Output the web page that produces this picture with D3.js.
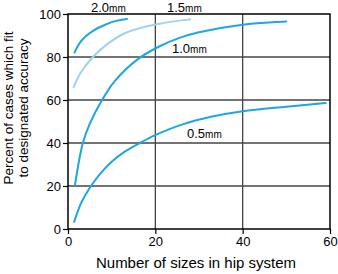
<!DOCTYPE html>
<html><head><meta charset="utf-8">
<script src="https://cdn.jsdelivr.net/npm/d3@7"></script>
<style>body{margin:0;background:#fff}svg{display:block}</style>
</head><body>
<script>
const xTicks = [0, 20, 40, 60];
const yTicks = [0, 20, 40, 60, 80, 100];
const seriesNames = ["2.0", "1.5", "1.0", "0.5"];
const s20 = [[1.5,82],[2.5,86],[4,89.5],[6,92.5],[8.5,95],[11,96.8],[13.5,97.7]];
const s15 = [[1.3,66],[3,73],[5.7,80],[9,86],[13.5,91.5],[21,95.5],[28,97.5]];
const s10 = [[1.6,20.5],[3.4,40],[5,49],[7.8,60],[10.8,69],[16,79],[21,85],[25.7,89],[30,91.5],[40,95],[50,96.5]];
const s05 = [[1.4,3.3],[3,12],[5.1,19.5],[7.5,26],[10,31.3],[13,36],[16.6,40.2],[20,43.7],[26.4,48.8],[33,52.3],[40,54.8],[50,56.9],[59,58.6]];
const xTitle = "Number of sizes in hip system";
const yTitle = ["Percent of cases which fit", "to designated accuracy"];

const W = 338, H = 274;
const svg = d3.select("body").append("svg").attr("width", W).attr("height", H);
const font = "'Liberation Sans', Arial, sans-serif";
const x = d3.scaleLinear().domain([0, 60]).range([68, 330]);
const y = d3.scaleLinear().domain([0, 100]).range([229, 14]);

// grid
svg.append("g").selectAll("line").data(xTicks.slice(1, -1)).join("line")
  .attr("x1", d => x(d)).attr("x2", d => x(d)).attr("y1", y(0)).attr("y2", y(100))
  .attr("stroke", "#444").attr("stroke-width", 1.3);
svg.append("g").selectAll("line").data(yTicks.slice(1, -1)).join("line")
  .attr("y1", d => y(d)).attr("y2", d => y(d)).attr("x1", x(0)).attr("x2", x(60))
  .attr("stroke", "#444").attr("stroke-width", 1.3);

// axes
const xa = svg.append("g").attr("transform", `translate(0,${y(0)})`)
  .call(d3.axisBottom(x).tickValues(xTicks).tickSize(5).tickPadding(3).tickSizeOuter(0));
const ya = svg.append("g").attr("transform", `translate(${x(0)},0)`)
  .call(d3.axisLeft(y).tickValues(yTicks).tickSize(5).tickPadding(2).tickSizeOuter(0));
[xa, ya].forEach(a => {
  a.select(".domain").remove();
  a.selectAll("line").attr("stroke", "#000").attr("stroke-width", 1.2);
  a.selectAll("text").attr("font-family", font).attr("font-size", 13).attr("fill", "#000");
});

// border
svg.append("rect").attr("x", x(0)).attr("y", y(100)).attr("width", x(60) - x(0)).attr("height", y(0) - y(100))
  .attr("fill", "none").attr("stroke", "#000").attr("stroke-width", 1.5);

// curves
const line = d3.line().x(d => x(d[0])).y(d => y(d[1])).curve(d3.curveCatmullRom.alpha(0.5));
const colors = ["#1da6e4", "#9fd2f0", "#1da6e4", "#1da6e4"];
[s20, s15, s10, s05].forEach((s, i) => {
  svg.append("path").attr("d", line(s)).attr("fill", "none")
    .attr("stroke", colors[i]).attr("stroke-width", 2).attr("stroke-linecap", "round");
});

// labels
const labPos = [[91, 12], [167, 12], [172, 53], [187, 138]];
seriesNames.forEach((n, i) => {
  const t = svg.append("text").attr("x", labPos[i][0]).attr("y", labPos[i][1])
    .attr("font-family", font).attr("font-size", 13).attr("fill", "#000");
  t.append("tspan").text(n);
  t.append("tspan").attr("font-size", 10).text("mm");
});

// titles
svg.append("text").attr("x", 196).attr("y", 268).attr("text-anchor", "middle")
  .attr("font-family", font).attr("font-size", 15).attr("fill", "#000").text(xTitle);
yTitle.forEach((t, i) => {
  svg.append("text").attr("transform", `translate(${13 + i * 15},${108}) rotate(-90)`)
    .attr("text-anchor", "middle").attr("font-family", font).attr("font-size", 13.5)
    .attr("fill", "#000").text(t);
});
</script>
</body></html>
